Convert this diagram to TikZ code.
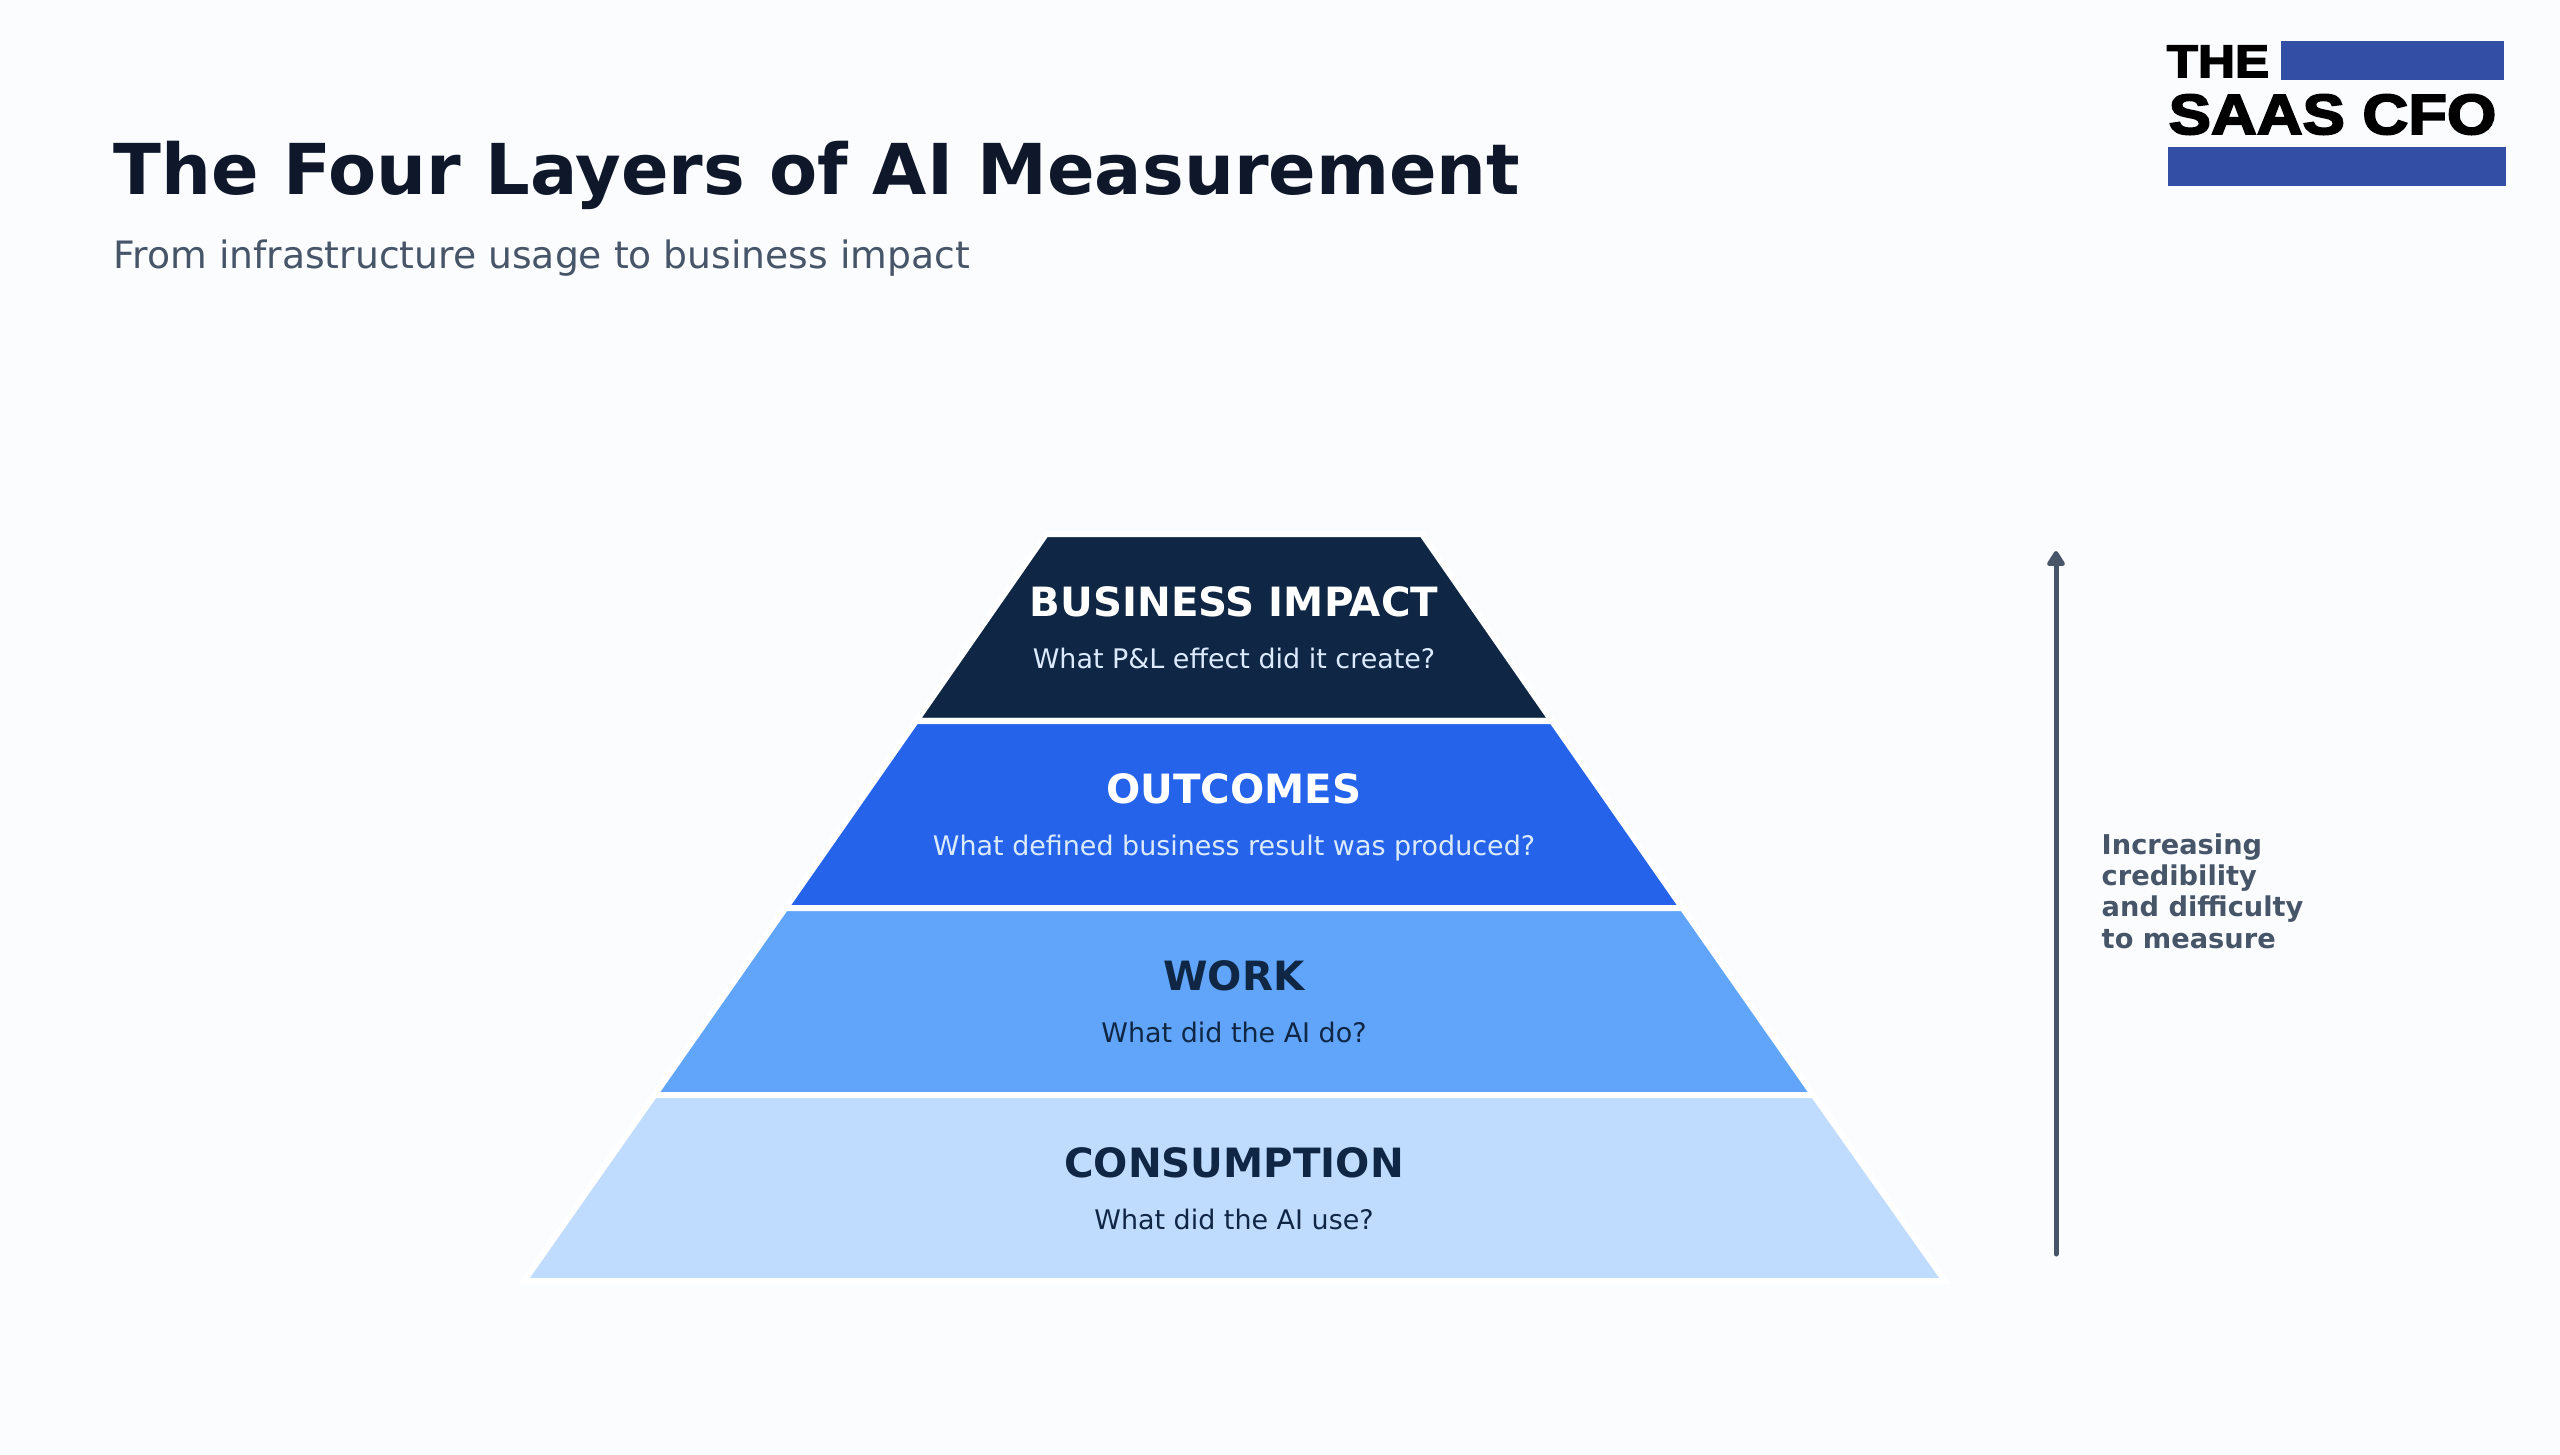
\documentclass[tikz,border=0pt]{standalone}
\usepackage{fontspec}
\setmainfont{DejaVu Sans}
\newfontfamily\logofont[FakeStretch=1.12,BoldFeatures={FakeBold=3.4}]{Liberation Sans}
\usetikzlibrary{arrows.meta}
\definecolor{paper}{HTML}{FBFCFE}
\definecolor{inkdark}{HTML}{0F172A}
\definecolor{slate}{HTML}{475569}
\definecolor{navy}{HTML}{0F2744}
\definecolor{royal}{HTML}{2563EB}
\definecolor{sky}{HTML}{60A5FA}
\definecolor{pale}{HTML}{BFDBFE}
\definecolor{mist}{HTML}{DBEAFE}
\definecolor{logoblue}{HTML}{334FA5}
\tikzset{
	band/.style={draw=white,line width=0.06cm,line join=miter},
	layerhead/.style={anchor=base,inner sep=0pt,font=\fontsize{11.47}{14}\selectfont\bfseries},
	layersub/.style={anchor=base,inner sep=0pt,font=\fontsize{7.66}{10}\selectfont},
	sidenote/.style={anchor=base west,inner sep=0pt,text=slate,font=\fontsize{7.75}{9}\selectfont\bfseries},
}
\begin{document}
\begin{tikzpicture}[x=0.01cm,y=-0.01cm]
	\fill[paper](0,0) rectangle (2560,1455);
	\useasboundingbox (0,0) rectangle (2560,1455);
	
	\node[anchor=base west,inner sep=0pt,text=inkdark,font=\fontsize{19.95}{24}\selectfont\bfseries] (headline) at (113,195) {The Four Layers of AI Measurement};
	\node[anchor=base west,inner sep=0pt,text=slate,font=\fontsize{10.72}{13}\selectfont] (subline) at (113,269) {From infrastructure usage to business impact};
	
	\fill[logoblue](2281,41) rectangle (2504,80);
	\fill[logoblue](2168,147) rectangle (2506,186);
	\node[anchor=base west,inner sep=0pt,text=black,font=\fontsize{13}{15}\logofont\bfseries] (logothe) at (2166,77) {THE};
	\node[anchor=base west,inner sep=0pt,text=black,font=\fontsize{16.1}{18}\logofont\bfseries] (logosaas) at (2168,134) {SAAS CFO};
	
	\draw[band][fill=navy](1046,534)--(1422,534)--(1552,721)--(916,721)--cycle;
	\draw[band][fill=royal](916,721)--(1552,721)--(1682.5,908)--(785.5,908)--cycle;
	\draw[band][fill=sky](785.5,908)--(1682.5,908)--(1813.5,1095)--(654.5,1095)--cycle;
	\draw[band][fill=pale](654.5,1095)--(1813.5,1095)--(1945,1281)--(524,1281)--cycle;
	
	\node[layerhead,text=white] (impact) at (1234,616.5) {BUSINESS IMPACT};
	\node[layersub,text=mist] (impactq) at (1234,669) {What P\&L effect did it create?};
	\node[layerhead,text=white] (outcomes) at (1234,803.5) {OUTCOMES};
	\node[layersub,text=mist] (outcomesq) at (1234,855) {What defined business result was produced?};
	\node[layerhead,text=navy] (work) at (1234,990.5) {WORK};
	\node[layersub,text=navy] (workq) at (1234,1042) {What did the AI do?};
	\node[layerhead,text=navy] (consumption) at (1234,1177.5) {CONSUMPTION};
	\node[layersub,text=navy] (consumptionq) at (1234,1229) {What did the AI use?};
	
	\coordinate (risebottom) at (2056,1254);
	\coordinate (risetop) at (2056,551);
	\draw[slate,line width=0.05cm,line cap=round,-{Triangle[width=0.2cm,length=0.17cm,round]}](risebottom)--(risetop);
	
	\node[sidenote] (noteone) at (2101,854) {Increasing};
	\node[sidenote] (notetwo) at (2101,885) {credibility};
	\node[sidenote] (notethree) at (2101,916) {and difficulty};
	\node[sidenote] (notefour) at (2101,948) {to measure};
\end{tikzpicture}
\end{document}
